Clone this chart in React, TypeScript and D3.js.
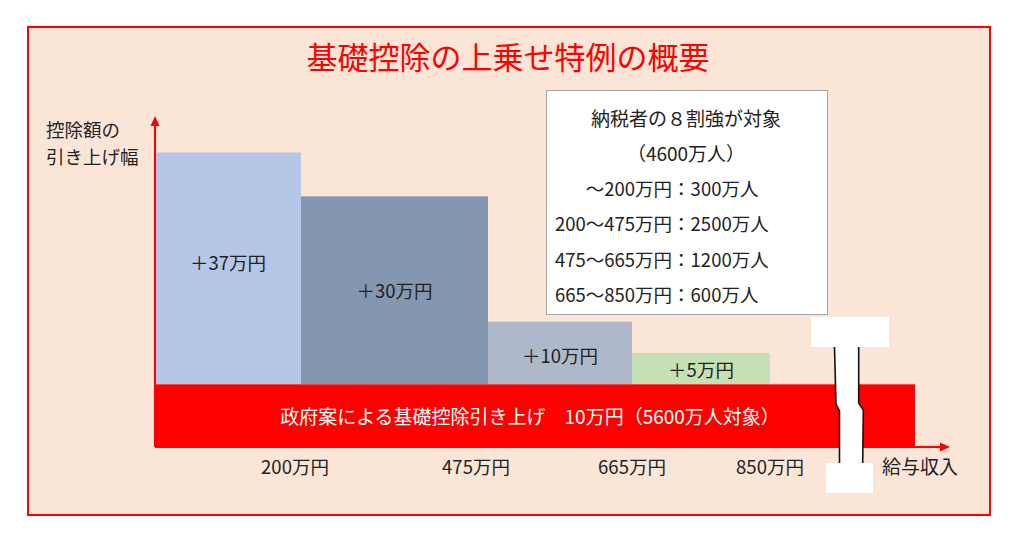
import React from "react";
import * as d3 from "d3";

// ---- data ----
const incomeBreaks = [0, 200, 475, 665, 850];
const raiseValues = [37, 30, 10, 5];
const raiseLabels = ["＋37万円", "＋30万円", "＋10万円", "＋5万円"];
const raiseColors = ["#B4C7E7", "#8497B0", "#ADB9CA", "#C5E0B4"];
const tickValues = [200, 475, 665, 850];
const tickLabels = ["200万円", "475万円", "665万円", "850万円"];
const baseRaise = 10;
const baseEndIncome = 1000;
const baseLabel = "政府案による基礎控除引き上げ　10万円（5600万人対象）";
const boxTitle = ["納税者の８割強が対象", "（4600万人）"];
const boxRowsPad = ["665", "", "", ""];
const boxRows = ["～200万円：300万人", "200～475万円：2500万人", "475～665万円：1200万人", "665～850万円：600万人"];
const title = "基礎控除の上乗せ特例の概要";

const FONT = "'Noto Sans CJK JP', 'Noto Sans', sans-serif";

export default function App() {
  const W = 1024, H = 538;
  const x = d3.scaleLinear()
    .domain([...incomeBreaks, baseEndIncome])
    .range([155, 301, 488, 632, 770, 915]);
  const y = d3.scaleLinear().domain([0, 52.5]).range([447, 118]);

  const x0 = x(0), yb = y(0);
  const axisTipX = 950, axisTipY = y(52.5) - 2;
  const textColor = "#222";

  const bars = raiseValues.map((v, i) => ({
    x0: x(incomeBreaks[i]), x1: x(incomeBreaks[i + 1]),
    yTop: y(baseRaise + v), yBot: y(baseRaise),
    label: raiseLabels[i], color: raiseColors[i],
  }));

  // break symbol
  const leftPath = "M834.5,347 L836,404 L839.5,411 L839.5,463";
  const rightPath = "M858.7,347 L858.7,403 L863.3,410 L862.7,463";
  const fillPath = "M834.5,347 L836,404 L839.5,411 L839.5,463 L862.7,463 L863.3,410 L858.7,403 L858.7,347 Z";

  return (
    <svg width={W} height={H} style={{ position: "absolute", left: 0, top: 0, background: "#fff" }} fontFamily={FONT}>
      <rect x={28} y={27} width={962} height={488} fill="#FBE5D6" stroke="#FF0000" strokeWidth={2} />
      <text x={508} y={55} textAnchor="middle" dominantBaseline="central" fontSize={31} fill="#FF0000">{title}</text>

      {/* y-axis label */}
      <text x={46} y={129} dominantBaseline="central" fontSize={18.5} fill={textColor}>控除額の</text>
      <text x={46} y={156} dominantBaseline="central" fontSize={18.5} fill={textColor}>引き上げ幅</text>

      {/* bars */}
      {bars.map((b, i) => (
        <g key={i}>
          <rect x={b.x0} y={b.yTop} width={b.x1 - b.x0} height={b.yBot - b.yTop} fill={b.color} />
          <text x={(b.x0 + b.x1) / 2} y={(b.yTop + b.yBot) / 2 + (i === 0 ? -6 : i === 2 ? 2 : 0)} textAnchor="middle"
            dominantBaseline="central" fontSize={18.5} fill={textColor}>{b.label}</text>
        </g>
      ))}

      {/* base band */}
      <rect x={x0} y={y(baseRaise)} width={x(baseEndIncome) - x0} height={yb - y(baseRaise)} fill="#FF0000" />
      <text x={530} y={(y(baseRaise) + yb) / 2} textAnchor="middle" dominantBaseline="central" fontSize={19} fill="#fff">{baseLabel}</text>

      {/* axes */}
      <line x1={x0} y1={yb} x2={x0} y2={axisTipY + 8} stroke="#FF0000" strokeWidth={2} />
      <path d={`M${x0},${axisTipY} L${x0 - 4.5},${axisTipY + 10} L${x0 + 4.5},${axisTipY + 10} Z`} fill="#FF0000" />
      <line x1={x0} y1={yb} x2={axisTipX - 8} y2={yb} stroke="#FF0000" strokeWidth={2} />
      <path d={`M${axisTipX},${yb} L${axisTipX - 10},${yb - 4.5} L${axisTipX - 10},${yb + 4.5} Z`} fill="#FF0000" />

      {/* tick labels */}
      {tickValues.map((t, i) => (
        <text key={t} x={x(t) + (i === 1 ? -12 : i === 0 ? -6 : 0)} y={466} textAnchor="middle" dominantBaseline="central" fontSize={18.5} fill={textColor}>{tickLabels[i]}</text>
      ))}
      <text x={882} y={465} dominantBaseline="central" fontSize={19} fill={textColor}>給与収入</text>

      {/* break symbol */}
      <rect x={811} y={317} width={78} height={30} fill="#fff" />
      <rect x={826} y={463} width={47} height={30} fill="#fff" />
      <path d={fillPath} fill="#fff" />
      <path d={leftPath} fill="none" stroke="#111" strokeWidth={1.6} />
      <path d={rightPath} fill="none" stroke="#111" strokeWidth={1.6} />

      {/* info box */}
      <rect x={546.5} y={90.5} width={281} height={224} fill="#fff" stroke="#a6a6a6" strokeWidth={1} />
      {boxTitle.map((t, i) => (
        <text key={t} x={686} y={117 + i * 35} textAnchor="middle" dominantBaseline="central" fontSize={19} fill={textColor}>{t}</text>
      ))}
      {boxRows.map((t, i) => (
        <text key={t} x={555} y={188 + i * 35.3} dominantBaseline="central" fontSize={18.5} fill={textColor}>
          <tspan fillOpacity={0}>{boxRowsPad[i]}</tspan>{t}
        </text>
      ))}
    </svg>
  );
}
